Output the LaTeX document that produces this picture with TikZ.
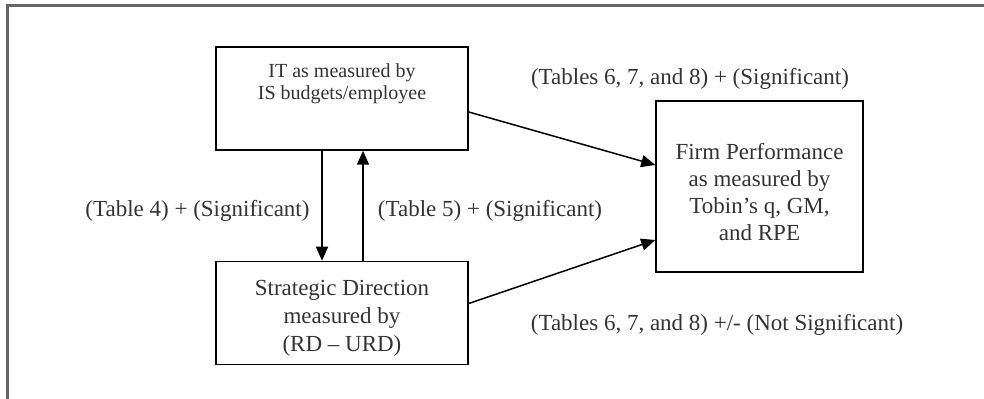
\documentclass[tikz,border=0pt]{standalone}
\usepackage{fontspec}
\setmainfont{Liberation Serif}
\usetikzlibrary{positioning, arrows.meta}

\begin{document}
\begin{tikzpicture}[>={Triangle[length=7pt, width=6pt]}, x=0.5pt, y=-0.5pt, line width=0.75pt,
    box/.style={draw, align=center, text=black!80, inner sep=0pt, minimum width=126pt, minimum height=51.5pt},
    tag/.style={font=\fontsize{11.5}{14}\selectfont, text=black!80, inner sep=0pt}]
    \useasboundingbox (0,0) rectangle (984,399);

    % Outer frame (top and left only)
    \draw[line width=1.2pt, black!60] (7.5,399) -- (7.5,5.5) -- (984,5.5);

    % Boxes
    \node (it) [box, font=\fontsize{10}{11}\selectfont, text height=26.5pt, text depth=25pt] at (342,98.5) {IT as measured by\\IS budgets/employee};
    \node (sd) [box, below=55pt of it, font=\fontsize{11.5}{14}\selectfont, text height=44.8pt, text depth=6.7pt] {Strategic Direction\\measured by\\(RD -- URD)};
    \node (fp) [box, minimum width=103.5pt, minimum height=85.5pt, font=\fontsize{11.5}{13.5}\selectfont, text height=69.8pt, text depth=15.7pt] at (759.5,186.5) {Firm Performance\\as measured by\\Tobin's q, GM,\\and RPE};

    % Labels
    \node (tabit) [tag] at (690,79) {(Tables 6, 7, and 8) + (Significant)};
    \node (tabfour) [tag] at (197.5,211) {(Table 4) + (Significant)};
    \node (tabfive) [tag] at (490,211) {(Table 5) + (Significant)};
    \node (tabsd) [tag] at (717,325) {(Tables 6, 7, and 8) +/- (Not Significant)};

    % Connection arrows
    \draw[->] ([yshift=-6.75pt]it.east) -- ([yshift=10.75pt]fp.west);
    \draw[->] ([yshift=4.75pt]sd.east) -- ([yshift=-26.75pt]fp.west);
    \draw[->] ([xshift=-10pt]it.south) -- ([xshift=-10pt]sd.north);
    \draw[->] ([xshift=10.5pt]sd.north) -- ([xshift=10.5pt]it.south);
\end{tikzpicture}
\end{document}
